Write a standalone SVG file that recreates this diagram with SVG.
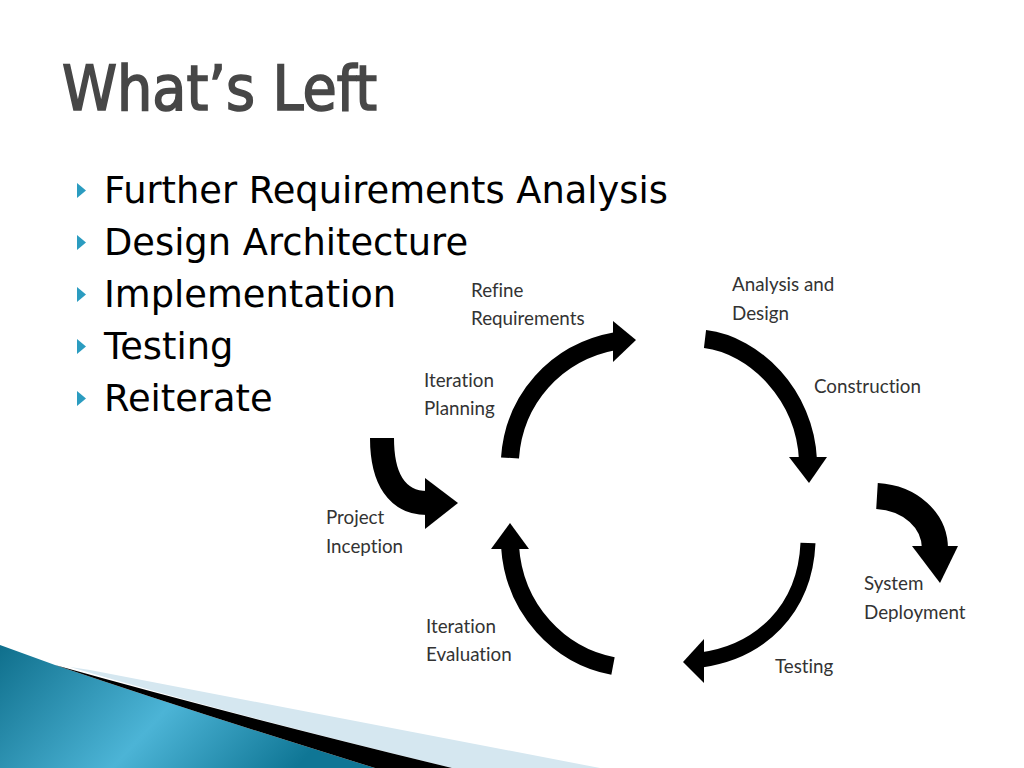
<svg xmlns="http://www.w3.org/2000/svg" width="1024" height="768" viewBox="0 0 1024 768">
<defs>
<style>
.title{font-family:"DejaVu Sans Condensed","DejaVu Sans",sans-serif;font-size:62px;fill:#474747;stroke:#474747;stroke-width:1.6px}
.bul{font-family:"DejaVu Sans",sans-serif;font-size:36.8px;fill:#000}
.lbl{font-family:Lato,"Liberation Sans",sans-serif;font-size:18.8px;fill:#333;font-variant-ligatures:none}
.sh{fill:none;stroke:#000;stroke-linecap:butt}
.hd{fill:#000}
.tri{fill:#2b9cc0}
</style>
<linearGradient id="blue" x1="0" y1="0" x2="1" y2="0.3">
<stop offset="0" stop-color="#0f6f8c"/>
<stop offset="0.55" stop-color="#4cb4d6"/>
<stop offset="1" stop-color="#0f7695"/>
</linearGradient>
</defs>
<rect width="1024" height="768" fill="#fff"/>
<g id="deco">
<path d="M90,670 L600,768 L452,768 Q230,714 70,667 Z" fill="#d5e7f0"/>
<path d="M0,645 L55,665 Q200,714 375,768 L0,768 Z" fill="url(#blue)"/>
<path d="M55,665 Q230,714 452,768 L375,768 Q200,714 55,665 Z" fill="#000"/>
</g>
<g id="title"><text class="title" x="62" y="110" textLength="315" lengthAdjust="spacingAndGlyphs">What’s Left</text></g>
<g id="bullets">
<polygon class="tri" points="77,183 77,198 86,190.5"/>
<text class="bul" x="104" y="203">Further Requirements Analysis</text>
<polygon class="tri" points="77,235 77,250 86,242.5"/>
<text class="bul" x="104" y="255">Design Architecture</text>
<polygon class="tri" points="77,287 77,302 86,294.5"/>
<text class="bul" x="104" y="307">Implementation</text>
<polygon class="tri" points="77,339 77,354 86,346.5"/>
<text class="bul" x="104" y="359">Testing</text>
<polygon class="tri" points="77,391 77,406 86,398.5"/>
<text class="bul" x="104" y="411">Reiterate</text>
</g>
<g id="labels">
<g id="refine"><text class="lbl" x="471" y="297">Refine</text><text class="lbl" x="471" y="325">Requirements</text></g>
<g id="analysis"><text class="lbl" x="732" y="291">Analysis and</text><text class="lbl" x="732" y="320">Design</text></g>
<g id="construction"><text class="lbl" x="814" y="393">Construction</text></g>
<g id="planning"><text class="lbl" x="424" y="387">Iteration</text><text class="lbl" x="424" y="415">Planning</text></g>
<g id="inception"><text class="lbl" x="326" y="524">Project</text><text class="lbl" x="326" y="553">Inception</text></g>
<g id="deployment"><text class="lbl" x="864" y="590">System</text><text class="lbl" x="864" y="619">Deployment</text></g>
<g id="evaluation"><text class="lbl" x="426" y="633">Iteration</text><text class="lbl" x="426" y="661">Evaluation</text></g>
<g id="testing"><text class="lbl" x="775" y="673">Testing</text></g>
</g>
<g id="connectors">
<path class="sh" stroke-width="18" d="M510,458 C514,400 555,352 616,341"/>
<polygon class="hd" points="613,321 636,340 613,362"/>
<path class="sh" stroke-width="18" d="M705,339 C755,345 805,395 808,460"/>
<polygon class="hd" points="789,457 827,457 809,483"/>
<path class="sh" stroke-width="26" d="M877,496 C910,498 935,520 935,549"/>
<polygon class="hd" points="912,546 958,546 940,583"/>
<path class="sh" stroke-width="15" d="M808,543 C805,610 760,652 701,660"/>
<polygon class="hd" points="704,639 683,662 704,683"/>
<path class="sh" stroke-width="18" d="M613,666 C560,656 514,610 510,546"/>
<polygon class="hd" points="491,549 510,523 529,549"/>
<path class="sh" stroke-width="24" d="M382,438 C382,480 398,503 427,503"/>
<polygon class="hd" points="425,478 458,503 425,529"/>
</g>
</svg>
